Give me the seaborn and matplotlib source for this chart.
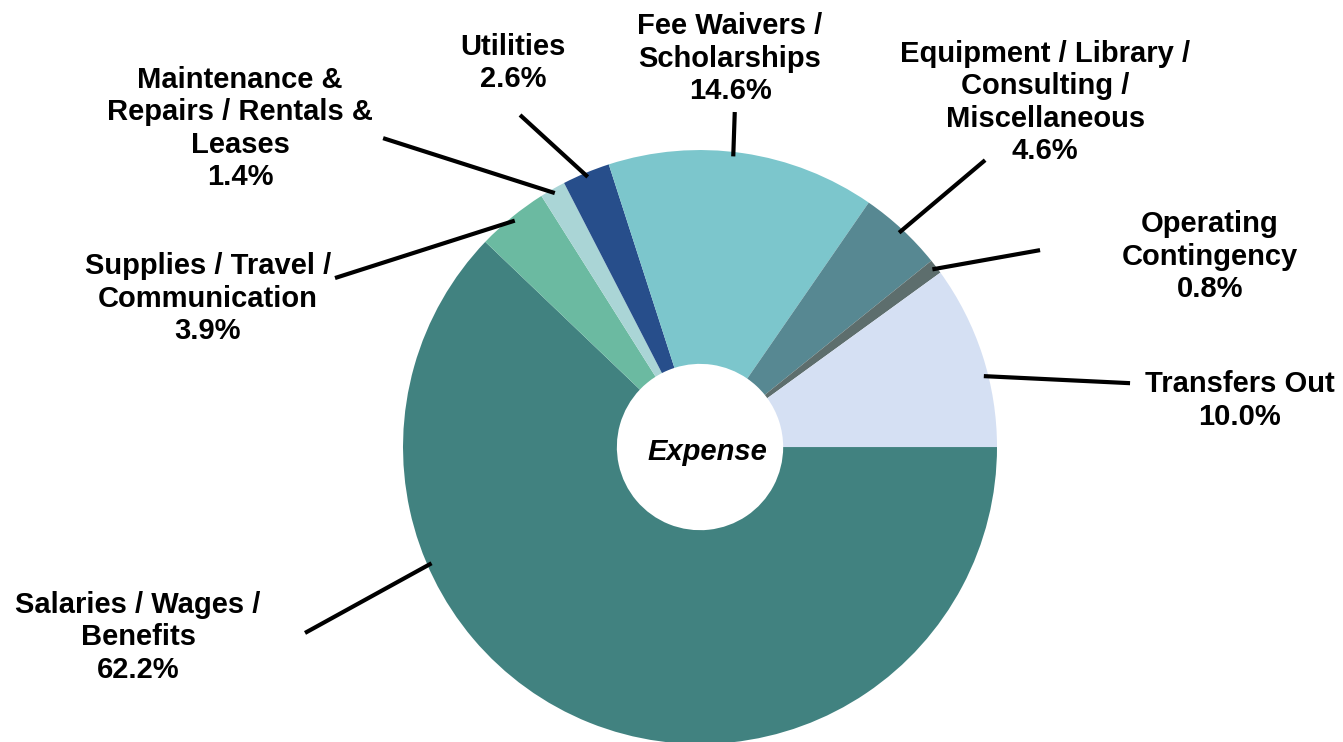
import numpy as np
import matplotlib
matplotlib.use("Agg")
import matplotlib.pyplot as plt
import seaborn as sns

## data (clockwise from 3 o'clock)
categories = ["Salaries / Wages /\nBenefits",
              "Supplies / Travel /\nCommunication",
              "Maintenance &\nRepairs / Rentals &\nLeases",
              "Utilities",
              "Fee Waivers /\nScholarships",
              "Equipment / Library /\nConsulting /\nMiscellaneous",
              "Operating\nContingency",
              "Transfers Out"]
shares = [62.2, 3.9, 1.4, 2.6, 14.6, 4.6, 0.8, 10.0]
colors = ["#418280", "#6bbaa1", "#aad5d6", "#274e8b",
          "#7cc6cc", "#578892", "#5d6e6d", "#d5e0f3"]

# layout of the callouts (pie radius = 1)
anchor_frac = [0.70, 0.5, 0.5, 0.5, 0.465, 0.5, 0.5, 0.61]   # where the leader touches the wedge
line_end = [(-1.330, -0.626), (-1.229, 0.569), (-1.067, 1.040), (-0.606, 1.118),
            (0.117, 1.128), (0.960, 0.966), (1.145, 0.663), (1.448, 0.215)]
text_pos = [(-1.892, -0.640), (-1.657, 0.500), (-1.549, 1.072), (-0.630, 1.294),
            (0.101, 1.308), (1.162, 1.160), (1.717, 0.641), (1.818, 0.156)]

sns.set_theme(style="white")
plt.rcParams['font.family'] = ['Liberation Sans', 'DejaVu Sans']

fig = plt.figure(figsize=(13.43, 7.42), dpi=100)
ax = fig.add_axes([0, 0, 1, 1])

wedges, _ = ax.pie(shares, colors=colors, startangle=0, counterclock=False,
                   radius=1, wedgeprops=dict(width=0.72, linewidth=0))

for w, f, le, tp, cat, val in zip(wedges, anchor_frac, line_end, text_pos, categories, shares):
    # wedges are drawn with theta1 < theta2; clockwise means start at theta2
    ang = np.deg2rad(w.theta2 - f * (w.theta2 - w.theta1))
    x0, y0 = 0.985 * np.cos(ang), 0.985 * np.sin(ang)
    ax.plot([x0, le[0]], [y0, le[1]], color="black", lw=3, solid_capstyle="butt")
    ax.text(tp[0], tp[1], f"{cat}\n{val:.1f}%", ha="center", va="center",
            fontsize=21, fontweight="bold", linespacing=1.2, color="black")

ax.text(0.025, -0.017, "Expense", ha="center", va="center", fontsize=21,
        fontweight="bold", fontstyle="italic", color="black")

ax.set_xlim(-2.357, 2.165)
ax.set_ylim(-0.993, 1.505)
ax.set_aspect("equal")
ax.axis("off")

fig.savefig("out.png", dpi=100, facecolor="white")
